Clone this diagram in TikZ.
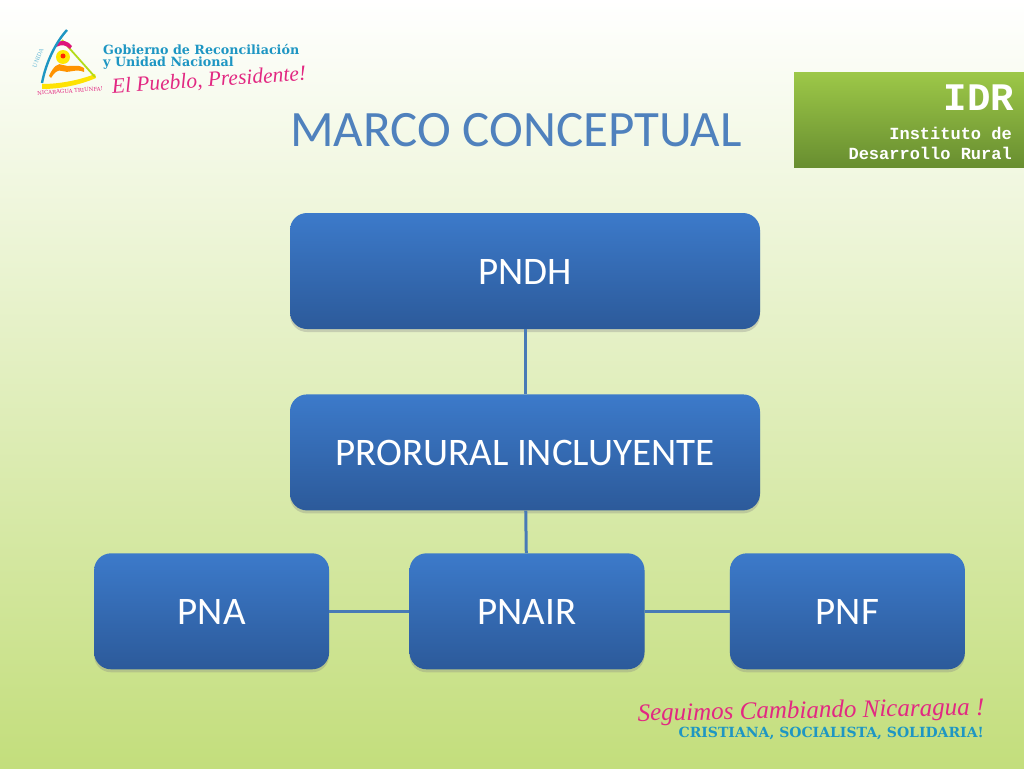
\documentclass[tikz,border=0pt]{standalone}
\usepackage{fontspec}
\setmainfont{Carlito}
\newfontfamily\slabfont{DejaVu Serif}
\newfontfamily\monofont{Liberation Mono}
\newfontfamily\handfont{Liberation Serif}
\usepackage{xcolor}
\usetikzlibrary{positioning,shadows}
\definecolor{boxtop}{RGB}{60,122,202}
\definecolor{boxbottom}{RGB}{44,90,154}
\definecolor{linkblue}{RGB}{72,122,182}
\definecolor{titleblue}{RGB}{79,129,189}
\definecolor{pagegreen}{RGB}{195,222,124}
\definecolor{idrtop}{RGB}{157,200,72}
\definecolor{idrbottom}{RGB}{104,142,48}
\definecolor{govblue}{RGB}{30,150,195}
\definecolor{handpink}{RGB}{226,40,130}
\newcommand{\pxfont}[1]{\fontsize{#1}{#1}\selectfont}

\begin{document}
\begin{tikzpicture}[x=1pt,y=-1pt,
    b/.style={rounded corners=17pt,top color=boxtop,bottom color=boxbottom,text=white,
              align=center,inner sep=0pt,font=\pxfont{39},text height=27pt,text depth=0pt,
              drop shadow={opacity=.3,shadow xshift=0pt,shadow yshift=-3pt}},
    wide/.style={b,minimum width=470pt,minimum height=116pt},
    small/.style={b,minimum width=235pt,minimum height=116pt},
    link/.style={draw=linkblue,line width=3pt},
    gov/.style={text=govblue,font=\slabfont\bfseries\pxfont{12.7},anchor=west,inner sep=0pt},
    hand/.style={text=handpink,font=\handfont\itshape\pxfont{25},inner sep=0pt},
    idrsmall/.style={text=white,font=\monofont\bfseries\pxfont{17},anchor=east,inner sep=0pt}]
\useasboundingbox (0,0) rectangle (1024,768);
\shade[top color=white,bottom color=pagegreen] (0,0) rectangle (1024,768);

% logo
\fill[yellow!85!orange] (42,84) .. controls (60,84) and (80,80) .. (95,74) -- (96,78) .. controls (80,85) and (60,89) .. (42,89) -- cycle;
\draw[yellow!70!green,line width=1.8pt] (62,40) -- (95,77);
\fill[magenta!70!purple] (57,43) .. controls (62,39) and (68,41) .. (72,46) -- (70,49) .. controls (66,45) and (62,44) .. (56,47) -- cycle;
\fill[yellow!90!orange] (63,57) circle (7pt);
\fill[red!70!orange] (63,56) circle (2.5pt);
\fill[orange!85!yellow] (49,76) .. controls (53,67) and (58,62) .. (63,65) .. controls (69,68) and (76,63) .. (84,68) -- (84,72) .. controls (76,68) and (68,74) .. (62,71) .. controls (58,69) and (54,73) .. (51,78) -- cycle;
\draw[govblue,line width=2.4pt] (67,30) .. controls (56,42) and (46,62) .. (42,83);
\node[text=govblue!70!white,font=\slabfont\pxfont{5.5},rotate=68,inner sep=0pt] (unida) at (38,58) {UNIDA};
\node[text=handpink,font=\slabfont\pxfont{5.4},rotate=4,inner sep=0pt] (triunfa) at (70,91) {NICARAGUA TRIUNFA!};

% government text
\node[gov] (gob) at (103,50) {Gobierno de Reconciliación};
\node[gov] (uni) at (103,63) {y Unidad Nacional};
\node[hand,font=\handfont\itshape\pxfont{21.5},rotate=4] (pueblo) at (209,81) {El Pueblo, Presidente!};

\node[text=titleblue,font=\pxfont{51},inner sep=0pt] (title) at (516,130) {MARCO CONCEPTUAL};

% IDR badge
\node[top color=idrtop,bottom color=idrbottom,minimum width=230pt,minimum height=95pt,inner sep=0pt] (idr) at (909,119.5) {};
\node[text=white,font=\monofont\bfseries\pxfont{39},anchor=east,inner sep=0pt] (idrname) at (1014,98) {IDR};
\node[idrsmall] (idrone) at (1012,133) {Instituto de};
\node[idrsmall] (idrtwo) at (1012,153) {Desarrollo Rural};

% diagram
\node[wide] (pndh) at (525,271) {PNDH};
\node[wide,below=65pt of pndh] (pror) {PRORURAL INCLUYENTE};
\node[small,below=42.5pt of pror,xshift=2pt] (pnair) {PNAIR};
\node[small,left=80pt of pnair] (pna) {PNA};
\node[small,right=85pt of pnair] (pnf) {PNF};
\draw[link] (pndh) -- (pror);
\draw[link] (pror) -- (pnair);
\draw[link] (pna) -- (pnair);
\draw[link] (pnair) -- (pnf);

% slogan
\node[hand,rotate=1] (seguimos) at (811,712) {Seguimos Cambiando Nicaragua !};
\node[text=govblue,font=\slabfont\bfseries\pxfont{14},anchor=east,inner sep=0pt] (cristiana) at (984,733) {CRISTIANA, SOCIALISTA, SOLIDARIA!};
\end{tikzpicture}
\end{document}
